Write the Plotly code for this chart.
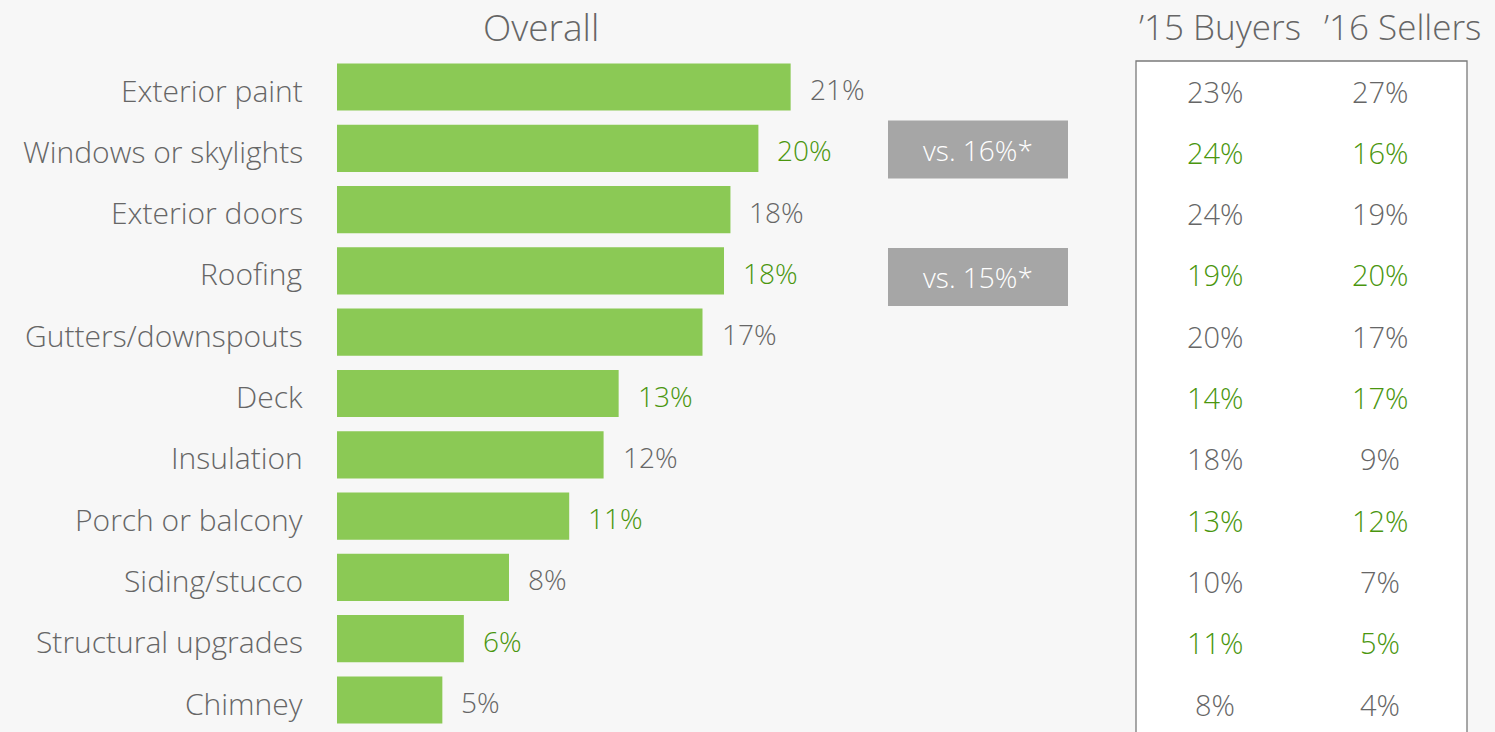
import plotly.graph_objects as go

categories = ["Exterior paint", "Windows or skylights", "Exterior doors", "Roofing",
              "Gutters/downspouts", "Deck", "Insulation", "Porch or balcony",
              "Siding/stucco", "Structural upgrades", "Chimney"]
overall = [21.1, 19.6, 18.3, 18.0, 17.0, 13.1, 12.4, 10.8, 8.0, 5.9, 4.9]
overall_labels = ["21%", "20%", "18%", "18%", "17%", "13%", "12%", "11%", "8%", "6%", "5%"]
buyers_15 = [23, 24, 24, 19, 20, 14, 18, 13, 10, 11, 8]
sellers_16 = [27, 16, 19, 20, 17, 17, 9, 12, 7, 5, 4]
highlight = [False, True, False, True, False, True, False, True, False, True, False]
callouts = {"Windows or skylights": "vs. 16%*", "Roofing": "vs. 15%*"}

W, H = 1495, 732
BG = "#f7f7f7"
BAR = "#8bc955"
GREY_TXT = "#666666"
GREEN_TXT = "#4a960e"
FONT = "Open Sans"
FS = 28

def px(x):
    return x / W

def py(y):
    return 1 - y / H

def f(size=FS, color=GREY_TXT):
    return dict(size=size, color=color, family=FONT, weight=300)

fig = go.Figure()
fig.add_trace(go.Bar(
    x=overall, y=categories, orientation="h",
    marker=dict(color=BAR, line=dict(width=0)),
    width=0.77, hoverinfo="skip",
))

x0_pix, x1_pix = 337, 1100
px_per_unit = 21.5
xmax = (x1_pix - x0_pix) / px_per_unit
row0, row_step = 87, 61.3
y_top = row0 - row_step / 2
y_bot = row0 + row_step * (len(categories) - 1) + row_step / 2

fig.update_layout(
    width=W, height=H,
    margin=dict(l=0, r=0, t=0, b=0),
    paper_bgcolor=BG, plot_bgcolor=BG,
    showlegend=False,
    font=dict(family=FONT, color=GREY_TXT),
    xaxis=dict(domain=[px(x0_pix), px(x1_pix)], range=[0, xmax], visible=False,
               fixedrange=True),
    yaxis=dict(domain=[py(y_bot), py(y_top)], categoryorder="array",
               categoryarray=categories, autorange="reversed",
               showgrid=False, zeroline=False, showline=False, ticks="",
               showticklabels=False),
)

annotations = []
shapes = []
box_shift = {"Windows or skylights": 0.02, "Roofing": 0.1}
for i, (cat, v) in enumerate(zip(categories, overall)):
    col = GREEN_TXT if highlight[i] else GREY_TXT
    annotations.append(dict(x=0, y=cat, xref="x", yref="y", text=cat,
                            showarrow=False, xanchor="right", xshift=-32, yshift=-3,
                            font=f(size=30)))
    annotations.append(dict(x=v, y=cat, xref="x", yref="y", text=overall_labels[i],
                            showarrow=False, xanchor="left", xshift=17, yshift=-2,
                            font=f(color=col)))
    annotations.append(dict(x=px(1215), y=cat, xref="paper", yref="y", xanchor="center",
                            text=f"{buyers_15[i]}%", showarrow=False, yshift=-4,
                            font=f(size=29, color=col)))
    annotations.append(dict(x=px(1380), y=cat, xref="paper", yref="y", xanchor="center",
                            text=f"{sellers_16[i]}%", showarrow=False, yshift=-4,
                            font=f(size=29, color=col)))
    if cat in callouts:
        s = box_shift[cat]
        shapes.append(dict(type="rect", xref="paper", yref="y",
                           x0=px(888), x1=px(1068), y0=i - 0.473 + s, y1=i + 0.473 + s,
                           fillcolor="#a6a6a6", line=dict(width=0), layer="above"))
        annotations.append(dict(x=px(978), y=i + s, xref="paper", yref="y", xanchor="center",
                                text=callouts[cat], showarrow=False,
                                font=f(color="white")))

shapes.append(dict(type="rect", xref="paper", yref="paper",
                   x0=px(1136), x1=px(1467), y0=-0.05, y1=py(61),
                   fillcolor="white", line=dict(color="#7a7a7a", width=1.3),
                   layer="below"))

for text, xc, size in [("Overall", 541, 37), ("\u201915 Buyers", 1220, 35),
                       ("\u201916 Sellers", 1402, 35)]:
    annotations.append(dict(x=px(xc), y=py(27), xref="paper", yref="paper",
                            text=text, showarrow=False, xanchor="center", yanchor="middle",
                            font=f(size=size)))

fig.update_layout(annotations=annotations, shapes=shapes)
fig.write_html("out.html")
